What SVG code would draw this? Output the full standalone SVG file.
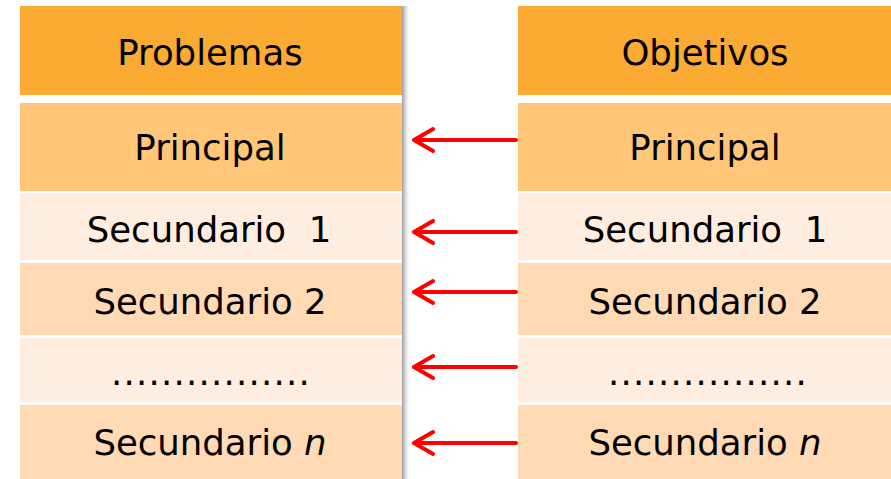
<svg xmlns="http://www.w3.org/2000/svg" width="891" height="479" viewBox="0 0 891 479">
<style>
text{font-family:"DejaVu Sans",Verdana,sans-serif;font-size:35.5px;fill:#000;text-anchor:middle;white-space:pre}
.dt{letter-spacing:1.2px}
.h{fill:#FBAA33}.p{fill:#FFC677}.l{fill:#FFEEDF}.d{fill:#FFDAB4}
.arr{stroke:#FF0000;stroke-width:4;fill:none;stroke-linecap:round;stroke-linejoin:round}
</style>
<defs>
<linearGradient id="sh" x1="0" x2="1" y1="0" y2="0">
<stop offset="0" stop-color="#9a9a9a"/><stop offset="1" stop-color="#ffffff" stop-opacity="0"/>
</linearGradient>
</defs>
<rect width="891" height="479" fill="#fff"/>
<rect x="402" y="6" width="9" height="473" fill="url(#sh)"/>
<g id="problemas">
<g id="p-header"><rect class="h" x="20" y="6" width="382" height="89"/><text x="210" y="65">Problemas</text></g>
<g id="p-principal"><rect class="p" x="20" y="103" width="382" height="88"/><text x="210" y="160">Principal</text></g>
<g id="p-sec1"><rect class="l" x="20" y="193" width="382" height="67"/><text x="209" y="242">Secundario  1</text></g>
<g id="p-sec2"><rect class="d" x="20" y="263" width="382" height="72"/><text x="210" y="314">Secundario 2</text></g>
<g id="p-dots"><rect class="l" x="20" y="338" width="382" height="64"/><text class="dt" x="211" y="385">................</text></g>
<g id="p-secn"><rect class="d" x="20" y="405" width="382" height="74"/><text x="210" y="455">Secundario <tspan font-style="italic">n</tspan></text></g>
</g>
<g id="objetivos">
<g id="o-header"><rect class="h" x="518" y="6" width="373" height="89"/><text x="705" y="65">Objetivos</text></g>
<g id="o-principal"><rect class="p" x="518" y="103" width="373" height="88"/><text x="705" y="160">Principal</text></g>
<g id="o-sec1"><rect class="l" x="518" y="193" width="373" height="67"/><text x="705" y="242">Secundario  1</text></g>
<g id="o-sec2"><rect class="d" x="518" y="263" width="373" height="72"/><text x="705" y="314">Secundario 2</text></g>
<g id="o-dots"><rect class="l" x="518" y="338" width="373" height="64"/><text class="dt" x="708" y="385">................</text></g>
<g id="o-secn"><rect class="d" x="518" y="405" width="373" height="74"/><text x="705" y="455">Secundario <tspan font-style="italic">n</tspan></text></g>
</g>
<g id="connectors">
<path class="arr" d="M516 140H414M433 129L414 140L433 151"/>
<path class="arr" d="M516 232H414M433 221L414 232L433 243"/>
<path class="arr" d="M516 292H414M433 281L414 292L433 303"/>
<path class="arr" d="M516 367H414M433 356L414 367L433 378"/>
<path class="arr" d="M516 443H414M433 432L414 443L433 454"/>
</g>
</svg>
